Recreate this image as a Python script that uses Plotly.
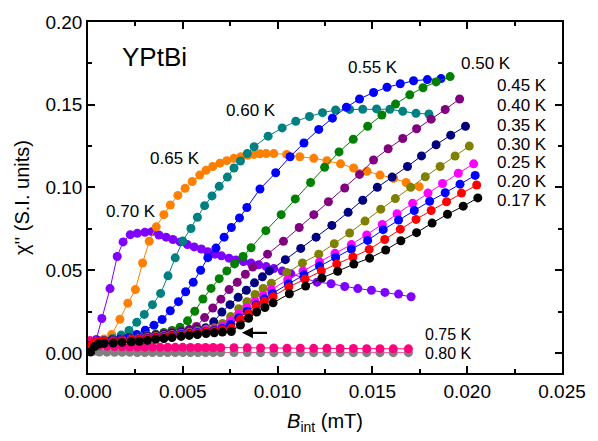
import plotly.graph_objects as go

# ---------------- data (B_int in mT, chi'' in S.I. units) ----------------
B_017 = [0.00013,0.00035,0.00056,0.00085,0.00133,0.0018,0.00228,0.00271,0.00314,0.00357,0.0040,0.00443,0.00491,0.00534,0.00577,0.00623,0.00666,0.00709,0.00756,0.00804,0.00847,0.0089,0.00933,0.00976,0.01062,0.01148,0.01234,0.01317,0.01402,0.01485,0.0157,0.0165,0.01733,0.01815,0.01896,0.01979,0.02056]
C_017 = [0.0006,0.0039,0.0054,0.0058,0.006,0.0064,0.0068,0.007,0.0076,0.0083,0.0087,0.0093,0.0100,0.0106,0.0111,0.0118,0.0122,0.0126,0.013,0.0169,0.021,0.0247,0.0275,0.0303,0.0358,0.0404,0.0453,0.0494,0.0537,0.0573,0.0622,0.0678,0.0727,0.0785,0.0838,0.0887,0.0937]

B_020 = [0.0001,0.0003,0.00056,0.00085,0.00133,0.0018,0.00228,0.00271,0.00314,0.00357,0.0040,0.00443,0.00491,0.00534,0.00577,0.00623,0.00666,0.00709,0.00756,0.00804,0.00847,0.00887,0.0093,0.00976,0.01059,0.01145,0.01231,0.01312,0.01397,0.01483,0.01565,0.01647,0.0173,0.0181,0.01891,0.0197,0.0205]
C_020 = [0.004,0.0062,0.0068,0.007,0.0071,0.0074,0.0077,0.0081,0.0086,0.0091,0.0096,0.0101,0.0107,0.0113,0.0119,0.0126,0.0133,0.014,0.015,0.0204,0.0239,0.0282,0.0312,0.034,0.0398,0.0447,0.0496,0.0538,0.058,0.0626,0.0686,0.0748,0.0807,0.0861,0.0914,0.0966,0.1015]

B_025 = [0.0001,0.0003,0.00056,0.00085,0.00133,0.0018,0.00228,0.00271,0.00314,0.00357,0.0040,0.00443,0.00491,0.00534,0.00577,0.00623,0.00666,0.00709,0.00752,0.00795,0.0084,0.00887,0.0093,0.00973,0.01057,0.01139,0.01221,0.01306,0.01389,0.01475,0.01557,0.01638,0.01721,0.01802,0.01884,0.01962,0.02042]
C_025 = [0.0045,0.006,0.0068,0.007,0.0072,0.0075,0.0079,0.0084,0.0089,0.0094,0.0099,0.0105,0.0111,0.0117,0.0123,0.013,0.0138,0.0148,0.0172,0.0212,0.0252,0.0292,0.0327,0.036,0.0418,0.0472,0.0525,0.0577,0.0628,0.068,0.0745,0.0803,0.0861,0.0917,0.0968,0.102,0.1073]

B_030 = [0.0001,0.0003,0.00056,0.00085,0.00133,0.0018,0.00228,0.00271,0.00314,0.00357,0.0040,0.00443,0.00491,0.00534,0.00577,0.00623,0.00666,0.00709,0.00752,0.00795,0.00838,0.00881,0.00924,0.00967,0.01053,0.01134,0.01221,0.01303,0.01389,0.0147,0.01552,0.0163,0.01712,0.01793,0.0187,0.01953,0.02034]
C_030 = [0.005,0.0062,0.0069,0.0071,0.0073,0.0077,0.0081,0.0086,0.0091,0.0097,0.0102,0.0108,0.0114,0.0121,0.0128,0.0136,0.0145,0.016,0.0195,0.0235,0.0273,0.0311,0.0348,0.0383,0.0443,0.0496,0.055,0.0602,0.0655,0.0713,0.0777,0.0841,0.0904,0.0966,0.1024,0.1086,0.1143]

B_035 = [0.0001,0.0003,0.00056,0.00085,0.00133,0.0018,0.00228,0.00271,0.00314,0.00357,0.0040,0.00443,0.00491,0.00534,0.00577,0.00623,0.00666,0.00709,0.00752,0.00795,0.00838,0.00881,0.00924,0.00967,0.01048,0.01131,0.01217,0.01299,0.0138,0.01461,0.01544,0.01621,0.01702,0.01779,0.01857,0.01936,0.02011]
C_035 = [0.005,0.0063,0.007,0.0072,0.0074,0.0078,0.0083,0.0088,0.0094,0.0100,0.0106,0.0112,0.0119,0.0126,0.0134,0.0143,0.0152,0.0178,0.022,0.0268,0.031,0.0354,0.039,0.0422,0.0486,0.0544,0.0597,0.066,0.0725,0.0797,0.0869,0.0933,0.1001,0.1065,0.1127,0.119,0.125]

B_040 = [0.0001,0.0003,0.00056,0.00085,0.00133,0.0018,0.00228,0.00271,0.00314,0.00357,0.0040,0.00443,0.00491,0.00534,0.00577,0.0062,0.00663,0.00706,0.00749,0.00792,0.00835,0.00878,0.0092,0.00956,0.01041,0.01122,0.01203,0.01286,0.01372,0.01449,0.01526,0.01604,0.01685,0.01759,0.01836,0.01913,0.01991]
C_040 = [0.005,0.0064,0.0071,0.0073,0.0076,0.008,0.0085,0.0091,0.0097,0.0104,0.011,0.0117,0.0124,0.0132,0.0141,0.0152,0.0188,0.0247,0.0292,0.0336,0.0379,0.0424,0.046,0.0496,0.0564,0.0632,0.07,0.0771,0.085,0.0923,0.1001,0.1063,0.1127,0.1191,0.1258,0.1316,0.137]

B_045 = [0.0001,0.0003,0.00056,0.00085,0.00133,0.0018,0.00228,0.00271,0.00314,0.00357,0.0040,0.00443,0.00491,0.00534,0.00572,0.00615,0.00658,0.00701,0.00744,0.00787,0.0083,0.00869,0.00947,0.01031,0.01114,0.01191,0.01268,0.01354,0.01432,0.01506,0.01583,0.0166,0.01733,0.0181,0.01884,0.0196]
C_045 = [0.005,0.0064,0.0072,0.0075,0.0078,0.0082,0.0088,0.0094,0.0101,0.0108,0.0116,0.0124,0.0133,0.0143,0.016,0.0214,0.0272,0.0325,0.0383,0.0427,0.0476,0.0519,0.0597,0.0675,0.0758,0.0836,0.0914,0.0997,0.1079,0.1166,0.1234,0.1296,0.1355,0.1413,0.1471,0.1535]

B_050 = [0.0001,0.0003,0.00056,0.00085,0.00133,0.0018,0.00228,0.00271,0.00314,0.00357,0.0040,0.00443,0.00485,0.00525,0.00563,0.00606,0.00649,0.00692,0.00732,0.00773,0.00818,0.0086,0.00938,0.01019,0.01093,0.01174,0.01248,0.01324,0.01399,0.01475,0.0155,0.01622,0.01697,0.01767,0.01836,0.0191]
C_050 = [0.0048,0.0062,0.007,0.0074,0.0077,0.0083,0.009,0.0097,0.0105,0.0114,0.0124,0.0136,0.0155,0.0194,0.0252,0.0326,0.039,0.0449,0.0496,0.0538,0.0583,0.0636,0.0739,0.0836,0.0931,0.103,0.1122,0.1215,0.1291,0.137,0.1438,0.1504,0.156,0.1603,0.1638,0.167]

B_055 = [0.0001,0.0004,0.0008,0.00125,0.0017,0.00213,0.00257,0.00302,0.00348,0.00391,0.00434,0.00477,0.00515,0.00555,0.00594,0.00632,0.00675,0.00718,0.00756,0.00799,0.00838,0.00907,0.0099,0.01066,0.01139,0.01217,0.01289,0.01363,0.01432,0.01506,0.01577,0.01647,0.01717,0.0179,0.01862]
C_055 = [0.005,0.0064,0.0072,0.0078,0.0085,0.0094,0.0112,0.0138,0.0168,0.0202,0.0255,0.031,0.037,0.0427,0.05,0.0576,0.0634,0.07,0.0758,0.0816,0.0879,0.0991,0.1089,0.1186,0.1269,0.1351,0.1419,0.1485,0.1535,0.1574,0.1606,0.1627,0.1645,0.1652,0.1658]

B_060 = [0.0001,0.0005,0.0009,0.0013,0.00175,0.00216,0.00257,0.00297,0.0034,0.00383,0.00422,0.0046,0.005,0.00543,0.00577,0.00615,0.00654,0.00692,0.00735,0.0077,0.00804,0.0084,0.00876,0.0095,0.01024,0.01096,0.01168,0.01237,0.01306,0.0138,0.01449,0.01522,0.01592,0.0166,0.0173,0.01798]
C_060 = [0.005,0.0062,0.0072,0.0088,0.0108,0.0136,0.0185,0.0233,0.0292,0.036,0.0466,0.0575,0.0676,0.0752,0.082,0.089,0.0949,0.1007,0.1063,0.1118,0.116,0.1205,0.1246,0.131,0.136,0.14,0.1429,0.1452,0.1468,0.1472,0.1473,0.1475,0.1473,0.146,0.1448,0.1444]

B_065 = [0.0002,0.0005,0.00085,0.00125,0.00168,0.0021,0.0025,0.00288,0.00323,0.0036,0.004,0.00434,0.00474,0.00512,0.0055,0.00589,0.00623,0.00658,0.00696,0.00732,0.0077,0.00806,0.00842,0.00875,0.00907,0.0094,0.0098,0.01048,0.01117,0.01191,0.0126,0.01332,0.01401,0.01471,0.0154,0.01612,0.01678,0.01747]
C_065 = [0.005,0.007,0.0085,0.0111,0.0204,0.0301,0.0383,0.0544,0.0675,0.0762,0.0836,0.0894,0.0952,0.0995,0.1036,0.1075,0.1104,0.1127,0.1147,0.1162,0.1176,0.1186,0.1195,0.12,0.1204,0.1205,0.1205,0.12,0.1186,0.1176,0.1162,0.1143,0.1118,0.1098,0.1075,0.1055,0.103,0.1005]

B_070 = [0.00015,0.00044,0.00073,0.00116,0.00154,0.00185,0.00223,0.0026,0.003,0.00336,0.00374,0.00412,0.00448,0.00486,0.00524,0.0056,0.00598,0.00632,0.0067,0.00704,0.00744,0.0078,0.0082,0.0086,0.009,0.0094,0.0098,0.01025,0.0107,0.0114,0.01208,0.01282,0.01354,0.01423,0.01495,0.01566,0.01638,0.01704]
C_070 = [0.003,0.0082,0.0208,0.0389,0.0583,0.0671,0.0715,0.0723,0.0729,0.0733,0.0713,0.07,0.0686,0.0671,0.0655,0.0641,0.0628,0.0612,0.0597,0.0587,0.0573,0.0562,0.0552,0.0543,0.0533,0.0522,0.051,0.0495,0.0478,0.0452,0.0428,0.0418,0.0402,0.0389,0.0379,0.0366,0.0356,0.034]

B_075 = [0.0001,0.0003,0.0006,0.001,0.0014,0.0018,0.0022,0.0026,0.003,0.0034,0.0038,0.0042,0.0046,0.005,0.0054,0.0058,0.0062,0.0066,0.007,0.0077,0.0084,0.0091,0.0098,0.0105,0.0112,0.0119,0.0126,0.0133,0.014,0.0147,0.0154,0.0161,0.0169]
C_075 = [0.0075,0.0055,0.0045,0.004,0.0038,0.0037,0.0036,0.0036,0.0035,0.0035,0.0035,0.0034,0.0034,0.0034,0.0033,0.0033,0.0033,0.0033,0.0032,0.0032,0.0031,0.003,0.003,0.0029,0.0029,0.0028,0.0028,0.0027,0.0027,0.0026,0.0026,0.0025,0.0025]

B_080 = [0.0001,0.0003,0.0006,0.001,0.0014,0.0018,0.0022,0.0026,0.003,0.0034,0.0038,0.0042,0.0046,0.005,0.0054,0.0058,0.0062,0.0066,0.007,0.0077,0.0084,0.0091,0.0098,0.0105,0.0112,0.0119,0.0126,0.0133,0.014,0.0147,0.0154,0.0161,0.0169]
C_080 = [0.0018,0.001,0.0006,0.0005,0.0004,0.0004,0.0004,0.0003,0.0003,0.0003,0.0003,0.0003,0.0003,0.0003,0.0003,0.0003,0.0003,0.0003,0.0003,0.0003,0.0003,0.0002,0.0002,0.0002,0.0002,0.0002,0.0002,0.0002,0.0002,0.0002,0.0002,0.0002,0.0002]

# drawing order: high T first so that the low-T curves lie on top
series = [
    ("0.80 K", B_080, C_080, "#808080", "#ff4fa0"),
    ("0.75 K", B_075, C_075, "#ff0080", "#ff0080"),
    ("0.70 K", B_070, C_070, "#8000ff", "#8000ff"),
    ("0.65 K", B_065, C_065, "#ff8000", "#ff8000"),
    ("0.60 K", B_060, C_060, "#008080", "#008080"),
    ("0.55 K", B_055, C_055, "#0000ff", "#0000ff"),
    ("0.50 K", B_050, C_050, "#008000", "#008000"),
    ("0.45 K", B_045, C_045, "#800080", "#800080"),
    ("0.40 K", B_040, C_040, "#000080", "#000080"),
    ("0.35 K", B_035, C_035, "#808000", "#808000"),
    ("0.30 K", B_030, C_030, "#ff00ff", "#ff00ff"),
    ("0.25 K", B_025, C_025, "#0000ff", "#0000ff"),
    ("0.20 K", B_020, C_020, "#ff0000", "#ff0000"),
    ("0.17 K", B_017, C_017, "#000000", "#000000"),
]

FONT = "Arial, Liberation Sans, sans-serif"

fig = go.Figure()
for name, bx, cy, mcol, lcol in series:
    fig.add_trace(go.Scatter(
        x=bx, y=cy, mode="lines+markers", name=name,
        line=dict(color=lcol, width=1),
        marker=dict(color=mcol, size=9, line=dict(width=0)),
        showlegend=False,
    ))

# curve labels (text, B position of left edge, chi position of centre, font size)
label_text = ["0.70 K", "0.65 K", "0.60 K", "0.55 K", "0.50 K", "0.45 K", "0.40 K",
              "0.35 K", "0.30 K", "0.25 K", "0.20 K", "0.17 K", "0.75 K", "0.80 K"]
label_x = [0.0009, 0.00323, 0.00725, 0.01365, 0.01963, 0.02152, 0.02152,
           0.02152, 0.02152, 0.02152, 0.02152, 0.02152, 0.01772, 0.01772]
label_y = [0.0857, 0.1178, 0.1464, 0.1726, 0.1749, 0.1618, 0.1493,
           0.1375, 0.1258, 0.1151, 0.1038, 0.0924, 0.0112, -0.0004]
label_size = [17, 17, 17, 17, 17, 17, 17, 17, 17, 17, 17, 17, 16, 16]

for t, lx, ly, ls in zip(label_text, label_x, label_y, label_size):
    fig.add_annotation(x=lx, y=ly, text=t, showarrow=False, xanchor="left",
                       yanchor="middle", borderpad=0,
                       font=dict(family=FONT, size=ls, color="black"))

fig.add_annotation(x=0.00168, y=0.179, text="YPtBi", showarrow=False, xanchor="left",
                   yanchor="middle", font=dict(family=FONT, size=26, color="black"))

# arrow pointing to the low-field plateau
fig.add_annotation(x=0.00812, y=0.0122, ax=0.0096, ay=0.0122, axref="x", ayref="y",
                   xref="x", yref="y", text=" ", showarrow=True, arrowhead=2,
                   arrowsize=1.0, arrowwidth=2.2, arrowcolor="black",
                   font=dict(family=FONT, size=10, color="black"))

axis_common = dict(
    showline=True, linecolor="black", linewidth=1.5, mirror="ticks",
    ticks="inside", ticklen=7, tickwidth=1.5, tickcolor="black",
    showgrid=False, zeroline=False,
    tickfont=dict(family=FONT, size=19, color="black"),
)

fig.update_xaxes(
    range=[0, 0.025], dtick=0.005, tick0=0, tickformat=".3f",
    minor=dict(ticks="inside", ticklen=4, tickwidth=1.5, tickcolor="black", dtick=0.0025, showgrid=False),
    title=dict(text="<i>B</i><sub>int</sub> (mT)", font=dict(family=FONT, size=20, color="black"), standoff=13),
    **axis_common,
)
fig.update_yaxes(
    range=[-0.0121, 0.2], dtick=0.05, tick0=0, tickformat=".2f",
    minor=dict(ticks="inside", ticklen=4, tickwidth=1.5, tickcolor="black", dtick=0.025, showgrid=False),
    title=dict(text="χ'' (S.I. units)", font=dict(family=FONT, size=20, color="black"), standoff=10),
    **axis_common,
)

fig.update_layout(
    width=598, height=441,
    margin=dict(l=88, r=26, t=12, b=65),
    paper_bgcolor="white", plot_bgcolor="white",
    font=dict(family=FONT, color="black"),
)

fig.write_html("out.html")
